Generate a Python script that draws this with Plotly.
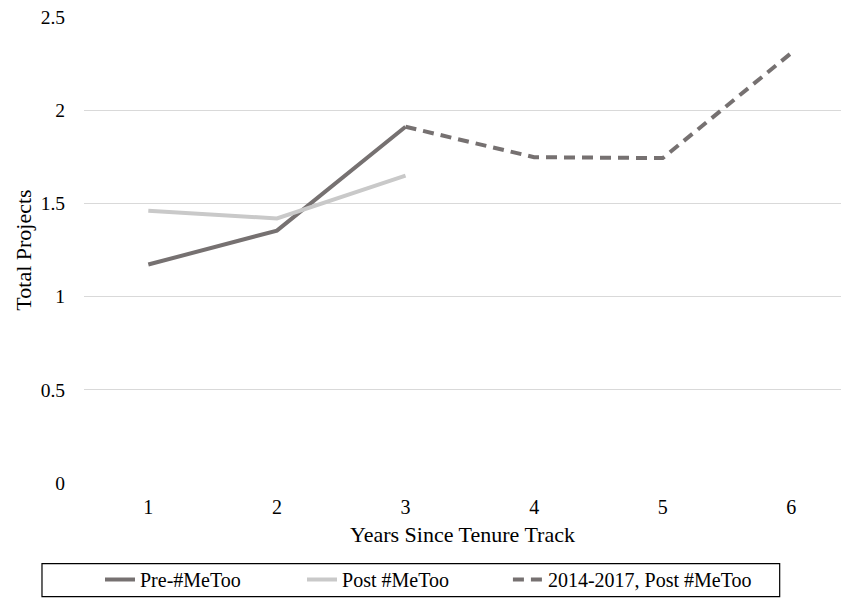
import plotly.graph_objects as go

years = [1, 2, 3, 4, 5, 6]
pre_x = [1, 2, 3]
pre_y = [1.172, 1.354, 1.911]
post_x = [1, 2, 3]
post_y = [1.461, 1.419, 1.649]
dash_x = [3, 4, 5, 6]
dash_y = [1.911, 1.748, 1.743, 2.307]
y_ticks = [0, 0.5, 1, 1.5, 2, 2.5]
y_labels = ["0", "0.5", "1", "1.5", "2", "2.5"]

dark = "#767171"
light = "#C9C9C9"
font = "Liberation Serif, Times New Roman, serif"

fig = go.Figure()
fig.add_trace(go.Scatter(x=pre_x, y=pre_y, mode="lines", name="Pre-#MeToo",
                         line=dict(color=dark, width=4), legend="legend"))
fig.add_trace(go.Scatter(x=post_x, y=post_y, mode="lines", name="Post #MeToo",
                         line=dict(color=light, width=4), legend="legend2"))
fig.add_trace(go.Scatter(x=dash_x, y=dash_y, mode="lines", name="2014-2017, Post #MeToo",
                         line=dict(color=dark, width=4, dash="11px,7px"), legend="legend3"))

leg_common = dict(orientation="h", y=-0.208, yanchor="middle", xanchor="left",
                  font=dict(family=font, size=20, color="#000000"),
                  bgcolor="rgba(0,0,0,0)")

fig.update_layout(
    width=841, height=599,
    margin=dict(l=84, r=0, t=17, b=115),
    plot_bgcolor="white", paper_bgcolor="white",
    font=dict(family=font, size=20, color="#000000"),
    showlegend=True,
    legend=dict(x=0.0211, **leg_common),
    legend2=dict(x=0.2880, **leg_common),
    legend3=dict(x=0.5600, **leg_common),
    xaxis=dict(range=[0.5, 6.386], tickvals=years, ticktext=[str(v) for v in years],
               showgrid=False, zeroline=False, showline=False, ticks="",
               ticklabelstandoff=10,
               tickfont=dict(family=font, size=20, color="#000000"),
               title=dict(text="Years Since Tenure Track",
                          font=dict(family=font, size=22, color="#000000"), standoff=9)),
    yaxis=dict(range=[0, 2.5], tickvals=y_ticks, ticktext=y_labels,
               showgrid=True, gridcolor="#D9D9D9", gridwidth=1.3, zeroline=False,
               showline=False, ticks="", ticklabelstandoff=18,
               tickfont=dict(family=font, size=19.5, color="#000000"),
               title=dict(text="Total Projects",
                          font=dict(family=font, size=22, color="#000000"), standoff=2)),
    shapes=[dict(type="rect", xref="paper", yref="paper", x0=-0.0555, x1=0.919,
                 y0=-0.173, y1=-0.244, line=dict(color="#000000", width=1.2))],
)

fig.write_html("out.html")
